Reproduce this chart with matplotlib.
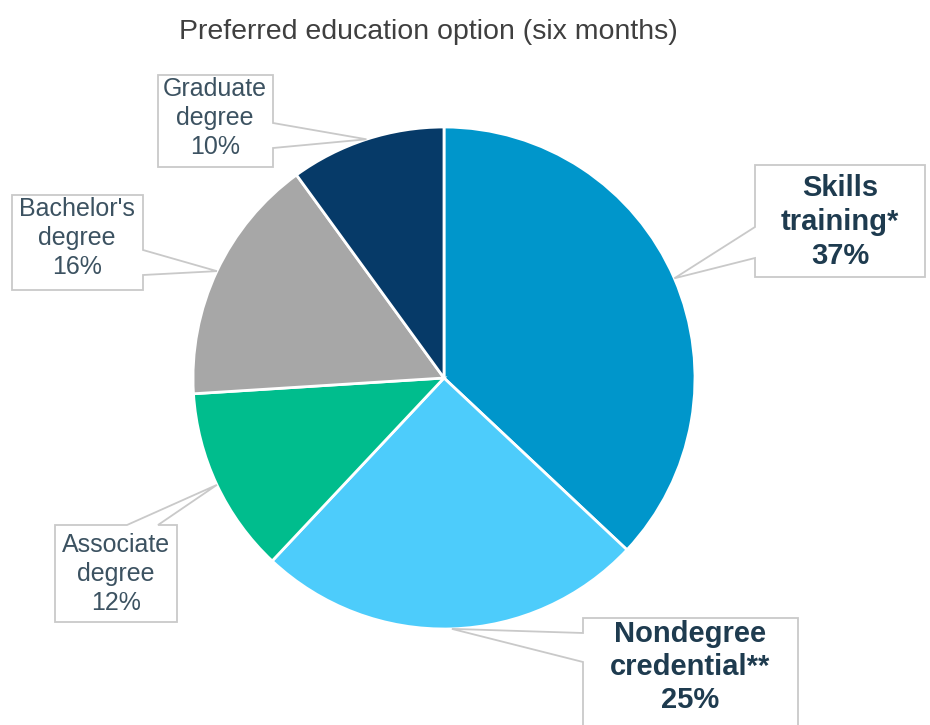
import numpy as np
import matplotlib
matplotlib.use("Agg")
import matplotlib.pyplot as plt
from matplotlib.patches import Polygon

# -------------------------- Data --------------------------
labels = ["Skills\ntraining*", "Nondegree\ncredential**", "Associate\ndegree",
          "Bachelor's\ndegree", "Graduate\ndegree"]
shares = [37, 25, 12, 16, 10]
colors = ["#0096CB", "#4DCCFB", "#00BD8D", "#A7A7A7", "#063A68"]
bold = [True, True, False, False, False]
title = "Preferred education option (six months)"

# -------------------------- Layout (pixels, y down) --------------------------
W, H = 930, 725
CX, CY, R = 444, 378, 251
# box (x0, y0, x1, y1), pointer side, pointer base span along that side
boxes = [
    ((755, 165, 925, 277), "left", (227, 258)),
    ((583, 618, 798, 740), "left", (633, 662)),
    ((55, 525, 177, 622), "top", (127, 158)),
    ((12, 195, 143, 290), "right", (250, 275)),
    ((158, 75, 273, 167), "right", (123, 148)),
]
text_pos = [(840, 222), (690, 667), (116, 574), (77, 238), (215, 118)]

plt.rcParams['font.family'] = ['Liberation Sans', 'DejaVu Sans']

fig = plt.figure(figsize=(W / 100, H / 100), dpi=100)
ax = fig.add_axes([0, 0, 1, 1])

wedges, _ = ax.pie(shares, colors=colors, startangle=90, counterclock=False,
                   center=(CX, H - CY), radius=R,
                   wedgeprops=dict(edgecolor="white", linewidth=2))
ax.set_xlim(0, W)
ax.set_ylim(0, H)
ax.set_aspect("equal")
ax.axis("off")


def callout_vertices(box, side, base, tip):
    x0, y0, x1, y1 = box
    a, b = base
    if side == "left":
        pts = [(x0, y0), (x1, y0), (x1, y1), (x0, y1), (x0, b), tip, (x0, a)]
    elif side == "right":
        pts = [(x0, y0), (x1, y0), (x1, a), tip, (x1, b), (x1, y1), (x0, y1)]
    else:  # top
        pts = [(x0, y0), (a, y0), tip, (b, y0), (x1, y0), (x1, y1), (x0, y1)]
    return [(px, H - py) for px, py in pts]


for w, lab, sh, bx, tp, b in zip(wedges, labels, shares, boxes, text_pos, bold):
    mid = np.deg2rad((w.theta1 + w.theta2) / 2)
    tip = (CX + R * np.cos(mid), CY - R * np.sin(mid))
    verts = callout_vertices(bx[0], bx[1], bx[2], tip)
    ax.add_patch(Polygon(verts, closed=True, facecolor="white",
                         edgecolor="#C9C9C9", linewidth=1.3, zorder=3,
                         clip_on=False))
    ax.text(tp[0], H - tp[1], f"{lab}\n{sh}%", ha="center", va="center",
            fontsize=21 if b else 18, fontweight="bold" if b else "normal",
            color="#1E3B4F" if b else "#3C5261",
            linespacing=1.25 if b else 1.27, zorder=4)

fig.text(428 / W, 1 - 32 / H, title, ha="center", va="center",
         fontsize=20.5, color="#3F3F3F")

fig.savefig("out.png", dpi=100, facecolor="white")
